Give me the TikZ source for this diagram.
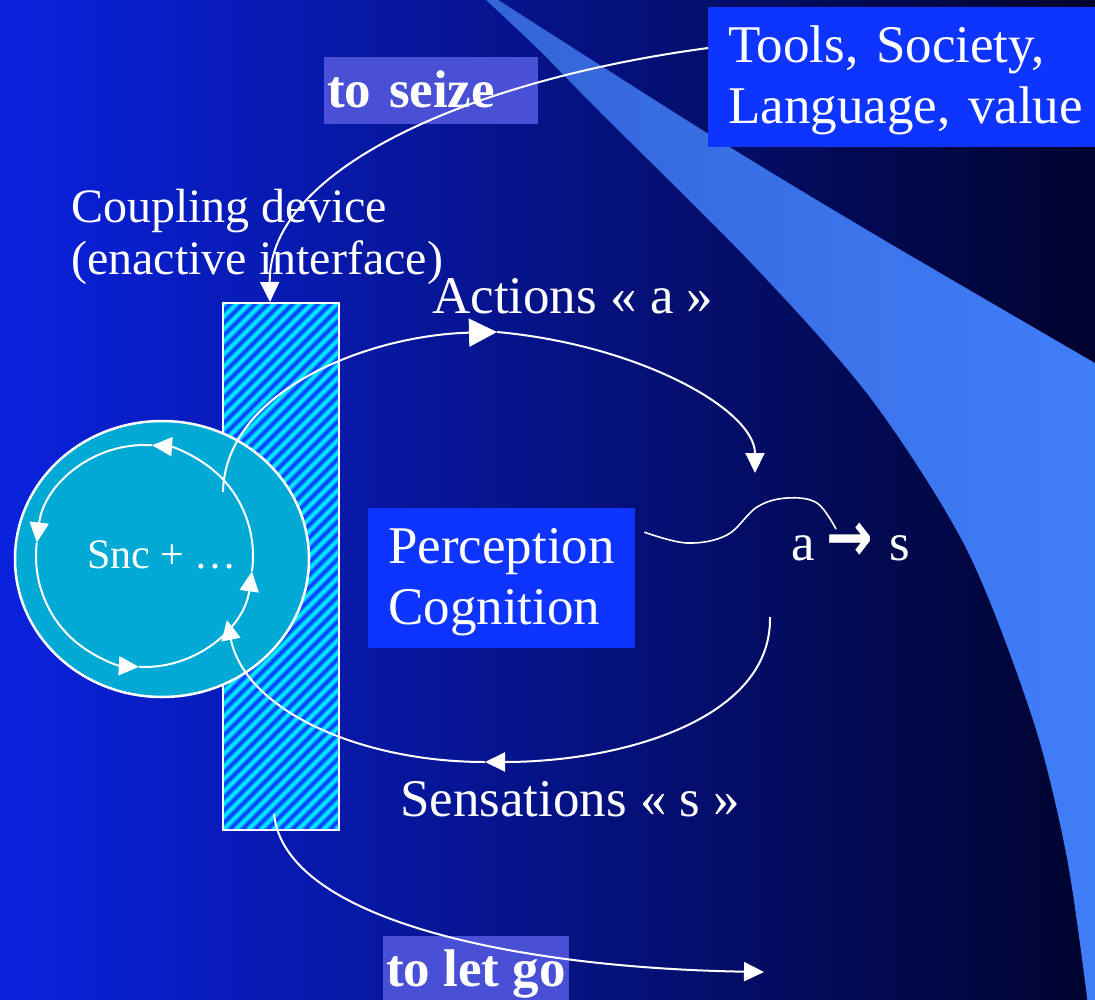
\documentclass[tikz,border=0pt]{standalone}
\usepackage{fontspec}
\setmainfont{Liberation Serif}
\newfontfamily\symfont{DejaVu Sans}
\usetikzlibrary{arrows.meta,shapes.geometric,calc}

\definecolor{bgleft}{RGB}{10,34,222}
\definecolor{bgmid}{RGB}{6,24,160}
\definecolor{bgright}{RGB}{0,3,45}
\definecolor{swooshdark}{RGB}{52,100,215}
\definecolor{swooshlight}{RGB}{64,126,248}
\definecolor{boxblue}{RGB}{13,53,255}
\definecolor{lavender}{RGB}{74,80,214}
\definecolor{discfill}{RGB}{0,170,212}
\definecolor{hatchblue}{RGB}{12,52,255}
\definecolor{hatchcyan}{RGB}{0,232,255}

\begin{document}
\begin{tikzpicture}[x=1bp,y=-1bp,
  big/.style={font=\fontsize{53bp}{61bp}\selectfont, text=white},
  mid/.style={font=\fontsize{48bp}{52bp}\selectfont, text=white},
  boxed/.style={big, fill=boxblue, inner xsep=20bp, inner ysep=0pt, align=left, text height=43bp, anchor=north west},
  tagbox/.style={fill=lavender, text=white, font=\fontsize{53bp}{61bp}\selectfont\bfseries,
    inner xsep=3bp, inner ysep=0pt, text height=37bp, text depth=3bp, anchor=north west},
  plain/.style={inner sep=0pt, anchor=base west},
  wline/.style={draw=white, line width=2bp},
  head/.style={-{Triangle[length=20bp,width=19bp]}},
  bighead/.style={-{Triangle[length=28bp,width=28bp]}},
]
\useasboundingbox (0,0) rectangle (1095,1000);

% background
\shade[left color=bgleft, middle color=bgmid, right color=bgright] (0,0) rectangle (1095,1000);

% light blue swoosh on the right
\shade[left color=swooshdark, right color=swooshlight]
  plot[smooth] coordinates {(495,-2) (707,133) (872,233) (1100,366)}
  -- (1100,1005)
  -- plot[smooth] coordinates {(1088,1005) (1067,858) (1033,720) (967,550) (872,400) (755,267) (598,110) (539,50) (484,-2)}
  -- cycle;

% text boxes and labels
\node[boxed, minimum height=140bp, text width=380bp] (tools) at (708,7) {Tools, Society,\\Language, value};
\node[boxed, minimum height=140bp, text width=227bp] (pc) at (368,508) {Perception\\Cognition};
\node[tagbox, minimum width=214bp, minimum height=67bp, text width=208bp, align=left] (seize) at (324,57) {to seize};
\node[tagbox, minimum width=185bp, minimum height=67bp] (letgo) at (383,936) {to let go};
\node[mid, plain, align=left] (cdl) at (71,274) {Coupling device\\(enactive interface)};
\node[big, plain] (actl) at (432,313) {Actions « a »};
\node[big, plain] (sensl) at (400,816) {Sensations « s »};
\node[big, plain] (as) at (791,560) {a\hspace{12bp}\raisebox{-1bp}{\symfont\bfseries\scalebox{1.05}[1.35]{→}}\hspace{16bp}s};

% coupling device: hatched bar
\node[draw=white, line width=2bp, minimum width=116bp, minimum height=527bp, inner sep=0pt,
  path picture={
    \fill[hatchblue] (path picture bounding box.north west) rectangle (path picture bounding box.south east);
    \foreach \k in {-44,...,12}{
      \draw[hatchcyan, opacity=0.4, line width=7bp]
        ([xshift=\k*12.5bp]path picture bounding box.south west) -- ++(560,-560);
      \draw[hatchcyan, line width=3.4bp]
        ([xshift=\k*12.5bp]path picture bounding box.south west) -- ++(560,-560);
    }
  }] (cd) at (281,566.5) {};

% sensorimotor disc
\node[ellipse, draw=white, line width=2.5bp, fill=discfill, minimum width=294bp, minimum height=276bp,
  inner sep=0pt, text=white, font=\fontsize{42bp}{48bp}\selectfont, text height=28bp, text depth=10bp]
  (snc) at (162,559) {Snc + …};

% inner loop with four arrows
\coordinate (loopc) at ($(snc.center)+(-17.5,-3)$);
\draw[wline, head] ($(loopc)+(8:108.5 and 111)$) arc[start angle=8, end angle=-86, x radius=108.5, y radius=111];
\draw[wline, head] ($(loopc)+(-86:108.5 and 111)$) arc[start angle=-86, end angle=-173, x radius=108.5, y radius=111];
\draw[wline, head] ($(loopc)+(-173:108.5 and 111)$) arc[start angle=-173, end angle=-267, x radius=108.5, y radius=111];
\draw[wline, head] ($(loopc)+(-267:108.5 and 111)$) arc[start angle=-267, end angle=-352, x radius=108.5, y radius=111];

% actions loop
\coordinate (actS) at ($(snc.center)+(61,-67)$);
\coordinate (actM) at (497,332);
\coordinate (actE) at (755,473);
\draw[wline, bighead] (actS) .. controls +(2,-102) and +(-127,3) .. (actM);
\draw[wline, head] (actM) .. controls +(143,13) and +(0,-63) .. (actE);

% sensations loop
\coordinate (senS) at (770,617);
\coordinate (senM) at (485,762);
\coordinate (senE) at (227,620);
\draw[wline, head] (senS) .. controls +(2,103) and +(135,0) .. (senM);
\draw[wline, head] (senM) .. controls +(-125,0) and +(18,90) .. (senE);

% small wave from perception towards a -> s
\coordinate (sqS) at ($(pc.east)+(9,-46)$);
\coordinate (sqE) at (836,529);
\draw[white, line width=1.6bp] plot[smooth, tension=0.6] coordinates {(sqS) (687,543) (727,535) (757,507) (787,498) (817,503) (sqE)};

% to seize / to let go
\draw[wline, head] ($(tools.north west)+(0,41)$) .. controls +(-238,32) and +(-2,-133) .. ($(cd.north)+(-11,0)$);
\coordinate (goE) at (764,972);
\draw[wline, head] ($(cd.south)+(-7,-17)$) .. controls +(11,107) and +(-244,-4) .. (goE);
\end{tikzpicture}
\end{document}
